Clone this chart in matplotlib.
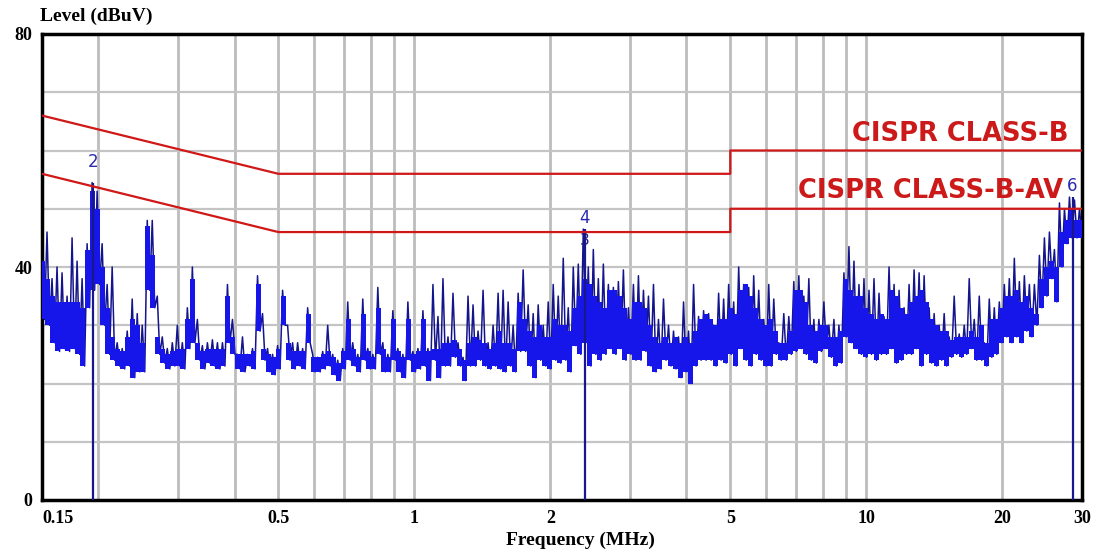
import numpy as np
import matplotlib.pyplot as plt

# scan trace (dBuV), one value per sweep step, 0.15 -> 30 MHz
# hi = spike tops, body = top of the dense band, lo = floor of the band
trace_hi = [41, 46, 38, 40, 39, 35, 45, 41, 38, 44, 54.5, 53, 44, 37, 40, 27, 26, 29, 34.5, 32,
            30, 48, 48, 35, 28, 26, 27, 30, 27, 33, 40, 31, 26.5, 27, 27.5, 27, 27, 37, 31, 25,
            28, 25,
            26, 38.5, 32, 26, 25, 26.5, 36, 30, 27, 27, 26, 33, 25, 24.5, 25.5, 30, 25, 24, 26, 34,
            27, 25, 34.5, 26, 25, 36.5, 27, 25, 32.5, 26, 25, 34, 25.5, 26, 32.5, 26, 37, 31.5, 38,
            28, 35.5, 27,
            24.5, 35, 33.5, 29, 36, 27, 30, 35.5, 36, 34, 30, 35.5, 39.5, 33.5, 32, 33.5, 30, 34,
            37, 35, 41.5, 33, 40, 40.5, 46.5, 40, 43, 38, 40.5, 37, 36.5, 37.5, 39.5, 33, 37,
            38.5, 36, 35, 37, 31, 34.5, 30,
            29, 28, 34, 29, 37, 31.5, 32.5, 32, 30, 35.5, 34.5, 37, 34, 40, 37, 36.5, 38.5, 36, 31,
            37, 34.5, 27, 32, 31.5, 37.5, 38.5, 35, 38, 31, 31, 34, 30, 31, 30, 39, 43.5, 41, 37,
            38, 36, 38, 35.5,
            31.5, 40, 37, 36, 33, 37, 39.5, 39, 38.5, 33, 32, 30, 32, 28, 35, 28.5, 30, 38, 31, 35,
            27, 34.5, 33, 34, 37, 38, 41.5, 37.5, 38.5, 37, 37, 42, 45, 46, 43, 51, 50, 52, 51.5,
            50]
trace_body = [41, 38, 35, 34, 34, 34, 34, 34, 33, 43, 53, 50, 40, 33, 28, 26, 25.5, 28, 31, 30,
              27, 47, 42, 28, 26, 25, 25.5, 26, 26, 31, 38, 27, 25.5, 26, 26, 26, 26, 35, 28, 25,
              25, 25,
              25.5, 37, 26, 25, 24.5, 26, 35, 27, 25.5, 25.5, 25.5, 32, 24.5, 24.5, 25, 25.5, 24.5,
              23.5, 25.5, 31, 26, 24.5, 32, 25.5, 24.5, 33, 26, 24.5, 31, 25.5, 24.5, 31, 25, 25.5,
              31, 25.5, 26, 26, 27, 27, 27.5, 26,
              24, 27, 28, 27.5, 27, 26, 27, 29, 27, 27, 26, 34, 31, 29, 28, 30, 28, 28, 31, 30,
              30, 29, 33, 35, 38, 37, 35, 34, 33, 36, 36, 35, 33, 31, 34, 34, 33, 30, 28, 27,
              28, 27,
              28, 27, 28, 27, 29, 31, 32, 31, 30, 31, 31, 33, 32, 36, 37, 35, 33, 31, 30, 31,
              29, 27, 27, 29, 36, 36, 34, 30, 29, 30, 30, 28, 28, 29, 38, 36, 35, 35, 33, 32,
              31, 32,
              31, 36, 35, 33, 32, 34, 35, 36, 34, 31, 30, 29, 29, 27.5, 28, 28, 28, 29, 28, 30,
              27, 31, 31, 33, 35, 35, 36, 34, 35, 33, 32, 38, 40, 41, 40, 46, 48, 50, 48, 48]
trace_lo = [31, 30, 27, 25.5, 26, 25.5, 26, 25, 23, 33, 36, 37, 30, 25, 24, 23, 22.5, 23, 21, 22,
            22, 36, 33, 25, 23.5, 22.5, 23, 23, 22.5, 26, 27, 24, 22.5, 23.5, 23, 22.5, 23, 27, 25,
            22.5, 22, 23,
            22.5, 29, 24, 22, 21.5, 22.5, 30, 24, 22.5, 23, 22.5, 27, 22, 22, 22.5, 23, 21.5, 20.5,
            22.5, 24, 23, 22, 24, 22.5, 22.5, 25, 22, 22, 24, 22, 21, 24, 22, 22.5, 23, 20.5, 24,
            21, 23, 23, 24.5, 23,
            20.5, 23, 23, 24, 23, 22.5, 23, 22.5, 22, 23, 22, 25.5, 25.5, 23, 21, 24, 23, 22.5, 24,
            23.5, 24, 22, 26.5, 25, 27, 23, 25, 24, 25, 26, 25, 26, 24, 25, 24, 24, 25.5, 23, 22,
            22.5, 24, 23,
            22.5, 21, 22, 20, 23, 24, 24, 24, 23, 24, 23.5, 25, 23, 26, 24, 23, 25, 24, 23, 23, 25,
            24, 24, 25, 25.5, 26, 25, 24, 23.5, 25.5, 26, 24.5, 23, 23.5, 28, 27, 26, 25, 24.5, 25,
            24, 25,
            25, 26, 23.5, 24, 25, 25, 26, 23, 25, 23.5, 23, 24, 23, 24.5, 25, 24.5, 25, 26, 24, 24,
            23, 24.5, 25, 27, 28, 27, 28, 27, 29, 28, 30, 33, 35, 38, 34, 40, 44, 45, 45, 45]

# limit lines
qp_freq = [0.15, 0.5, 5, 5, 30]
qp_level = [66, 56, 56, 60, 60]
av_freq = [0.15, 0.5, 5, 5, 30]
av_level = [56, 46, 46, 50, 50]

# markers
mark_freq = [0.195, 2.38, 28.6]
mark_level = [54.5, 46.5, 52]
mark_text = ['2', '4', '6']

xticks = [0.15, 0.5, 1, 2, 5, 10, 20, 30]
xtick_labels = ['0.15', '0.5', '1', '2', '5', '10', '20', '30']
yticks = [0, 40, 80]

fig = plt.figure(figsize=(11.16, 5.5), dpi=100)
ax = fig.add_axes([42/1116, 50/550, 1040/1116, 466/550])

# grid
grid_x = [0.2, 0.3, 0.4, 0.5, 0.6, 0.7, 0.8, 0.9, 1, 2, 3, 4, 5, 6, 7, 8, 9, 10, 20]
for g in grid_x:
    ax.axvline(g, color='#bcbcbc', lw=2, zorder=1)
for g in range(10, 80, 10):
    ax.axhline(g, color='#c4c4c4', lw=1.6, zorder=1)

# scan trace: thin zigzag for the spikes, filled steps for the dense band
n = len(trace_hi)
freq = np.geomspace(0.15, 30, n)
zz_freq = np.geomspace(0.15, 30, 2 * n)
zz_level = np.empty(2 * n)
zz_level[0::2] = trace_hi
zz_level[1::2] = trace_lo
ax.plot(zz_freq, zz_level, color='#14148c', lw=1.1, zorder=3)
ax.fill_between(freq, trace_lo, trace_body, step='mid', color='#1616ea', lw=0, zorder=4)

# marker drop lines
ax.vlines(mark_freq, 0, mark_level, color='#18188c', lw=1.6, zorder=4)

ax.plot(qp_freq, qp_level, color='#d01818', lw=1.6, zorder=5)
ax.plot(av_freq, av_level, color='#d01818', lw=1.6, zorder=5)

mark_offset = [2.0, 0.4, 0.4]
for f, lv, t, o in zip(mark_freq, mark_level, mark_text, mark_offset):
    ax.text(f, lv + o, t, color='#2a2ab0', fontsize=12, ha='center', va='bottom', zorder=6)
ax.text(2.38, 43.2, '3', color='#1a1a80', fontsize=11, ha='center', va='bottom', zorder=6)

ax.text(28.0, 62.8, 'CISPR CLASS-B', color='#cc1a1a', fontsize=18.5, fontweight='bold',
        ha='right', va='center', zorder=6)
ax.text(27.2, 53.0, 'CISPR CLASS-B-AV', color='#cc1a1a', fontsize=18.5, fontweight='bold',
        ha='right', va='center', zorder=6)

ax.set_xscale('log')
ax.set_xlim(0.15, 30)
ax.set_ylim(0, 80)
ax.set_xticks(xticks)
ax.set_xticklabels(xtick_labels)
ax.minorticks_off()
ax.set_yticks(yticks)
ax.tick_params(length=0, pad=7)
for lab in ax.get_xticklabels() + ax.get_yticklabels():
    lab.set_fontfamily('Liberation Serif')
    lab.set_fontweight('bold')
    lab.set_fontsize(13)
ax.get_xticklabels()[0].set_ha('left')

for s in ax.spines.values():
    s.set_color('black')
    s.set_linewidth(2.5)

ax.set_xlabel('Frequency (MHz)', fontfamily='Liberation Serif', fontweight='bold',
              fontsize=14, labelpad=2)
ax.xaxis.set_label_coords((580 - 42) / 1040, -0.068)
fig.text(40/1116, 1 - 16/550, 'Level (dBuV)', fontfamily='Liberation Serif',
         fontweight='bold', fontsize=14, ha='left', va='center')

fig.savefig('out.png', dpi=100)
